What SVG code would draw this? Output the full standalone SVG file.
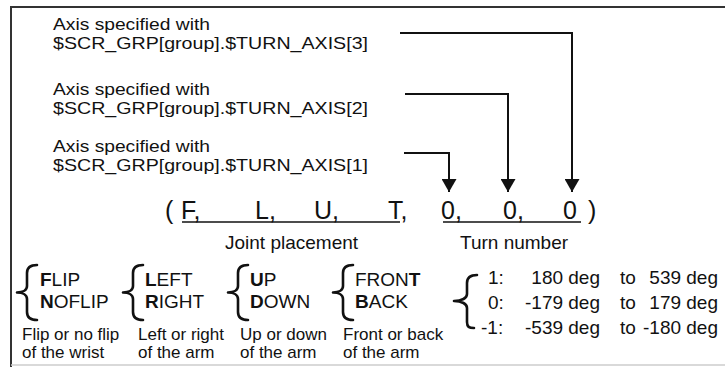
<svg xmlns="http://www.w3.org/2000/svg" width="725" height="367" viewBox="0 0 725 367">
  <style>
    text { font-family: "Liberation Sans", Arial, sans-serif; fill: #111; }
    .lbl { font-size: 16.5px; }
    .cfg { font-size: 25px; }
    .cap { font-size: 19px; }
    .opt { font-size: 19px; }
    .desc { font-size: 17px; }
    .rng { font-size: 19px; }
    .key { font-weight: bold; }
    .conn { fill: none; stroke: #111; stroke-width: 2; }
    .brace { fill: none; stroke: #111; stroke-width: 2.6; stroke-linecap: round; stroke-linejoin: round; }
    .uline { stroke: #111; stroke-width: 1.6; }
  </style>
  <defs>
    <marker id="arrow" viewBox="0 0 13 15" refX="13" refY="7.5" markerWidth="13" markerHeight="15" markerUnits="userSpaceOnUse" orient="auto">
      <path d="M0,0 L13,7.5 L0,15 Z" fill="#111"/>
    </marker>
    <!-- curly brace, 20 wide and 55 tall -->
    <path id="brace" class="brace" d="M20,0 C14,0 10,2 10,8 V21 C10,25 6,27.5 0,27.5 C6,27.5 10,30 10,34 V47 C10,53 14,55 20,55"/>
  </defs>

  <!-- frame -->
  <g id="frame">
    <path d="M725,7 H11 V367" fill="none" stroke="#333" stroke-width="2"/>
    <line x1="11" y1="365" x2="725" y2="365" stroke="#ccc" stroke-width="1.5"/>
  </g>

  <!-- axis labels -->
  <g id="axis3-label">
    <text class="lbl" x="53" y="30" textLength="157" lengthAdjust="spacingAndGlyphs">Axis specified with</text>
    <text class="lbl" x="53" y="49" textLength="315" lengthAdjust="spacingAndGlyphs">$SCR_GRP[group].$TURN_AXIS[3]</text>
  </g>
  <g id="axis2-label">
    <text class="lbl" x="53" y="95" textLength="157" lengthAdjust="spacingAndGlyphs">Axis specified with</text>
    <text class="lbl" x="53" y="114" textLength="315" lengthAdjust="spacingAndGlyphs">$SCR_GRP[group].$TURN_AXIS[2]</text>
  </g>
  <g id="axis1-label">
    <text class="lbl" x="53" y="152" textLength="157" lengthAdjust="spacingAndGlyphs">Axis specified with</text>
    <text class="lbl" x="53" y="171" textLength="315" lengthAdjust="spacingAndGlyphs">$SCR_GRP[group].$TURN_AXIS[1]</text>
  </g>

  <!-- connectors from axis labels to turn numbers -->
  <g id="connectors">
    <path class="conn" d="M400,33 H572 V192" marker-end="url(#arrow)"/>
    <path class="conn" d="M405,94 H508 V192" marker-end="url(#arrow)"/>
    <path class="conn" d="M404,153 H449 V192" marker-end="url(#arrow)"/>
  </g>

  <!-- configuration string -->
  <g id="config-row">
    <text class="cfg" x="165" y="219">(</text>
    <text class="cfg" x="181" y="219">F,</text>
    <text class="cfg" x="255" y="219">L,</text>
    <text class="cfg" x="314" y="219">U,</text>
    <text class="cfg" x="388" y="219">T,</text>
    <text class="cfg" x="441" y="219">0,</text>
    <text class="cfg" x="503" y="219">0,</text>
    <text class="cfg" x="563" y="219">0</text>
    <text class="cfg" x="588" y="219">)</text>
    <line class="uline" x1="182" y1="222" x2="400" y2="222"/>
    <line class="uline" x1="443" y1="222" x2="581" y2="222"/>
  </g>

  <g id="joint-placement">
    <text class="cap" x="225" y="249">Joint placement</text>
  </g>
  <g id="turn-number">
    <text class="cap" x="460" y="249">Turn number</text>
  </g>

  <!-- joint placement options -->
  <g id="flip-group">
    <use href="#brace" x="17" y="265"/>
    <text class="opt" x="40" y="286"><tspan class="key">F</tspan>LIP</text>
    <text class="opt" x="40" y="308"><tspan class="key">N</tspan>OFLIP</text>
    <text class="desc" x="22" y="340">Flip or no flip</text>
    <text class="desc" x="22" y="358">of the wrist</text>
  </g>
  <g id="arm-group">
    <use href="#brace" x="123" y="265"/>
    <text class="opt" x="145" y="286"><tspan class="key">L</tspan>EFT</text>
    <text class="opt" x="145" y="308"><tspan class="key">R</tspan>IGHT</text>
    <text class="desc" x="138" y="340">Left or right</text>
    <text class="desc" x="138" y="358">of the arm</text>
  </g>
  <g id="updown-group">
    <use href="#brace" x="228" y="265"/>
    <text class="opt" x="250" y="286"><tspan class="key">U</tspan>P</text>
    <text class="opt" x="250" y="308"><tspan class="key">D</tspan>OWN</text>
    <text class="desc" x="240" y="340">Up or down</text>
    <text class="desc" x="240" y="358">of the arm</text>
  </g>
  <g id="frontback-group">
    <use href="#brace" x="333" y="265"/>
    <text class="opt" x="355" y="286">FRON<tspan class="key">T</tspan></text>
    <text class="opt" x="355" y="308"><tspan class="key">B</tspan>ACK</text>
    <text class="desc" x="343" y="340">Front or back</text>
    <text class="desc" x="343" y="358">of the arm</text>
  </g>

  <!-- turn number ranges -->
  <g id="turn-range-group">
    <path class="brace" stroke-width="2.2" d="M477,275 C471,275 467,277 467,283 V294 C467,298 462,301 454,301 C462,301 467,304 467,308 V322 C467,327 469,328 474,328"/>
    <text class="rng" x="488" y="284">1:</text>
    <text class="rng" x="600" y="284" text-anchor="end">180 deg</text>
    <text class="rng" x="620" y="284">to</text>
    <text class="rng" x="718" y="284" text-anchor="end">539 deg</text>
    <text class="rng" x="488" y="309">0:</text>
    <text class="rng" x="600" y="309" text-anchor="end">-179 deg</text>
    <text class="rng" x="620" y="309">to</text>
    <text class="rng" x="718" y="309" text-anchor="end">179 deg</text>
    <text class="rng" x="481" y="334">-1:</text>
    <text class="rng" x="600" y="334" text-anchor="end">-539 deg</text>
    <text class="rng" x="620" y="334">to</text>
    <text class="rng" x="718" y="334" text-anchor="end">-180 deg</text>
  </g>
</svg>
